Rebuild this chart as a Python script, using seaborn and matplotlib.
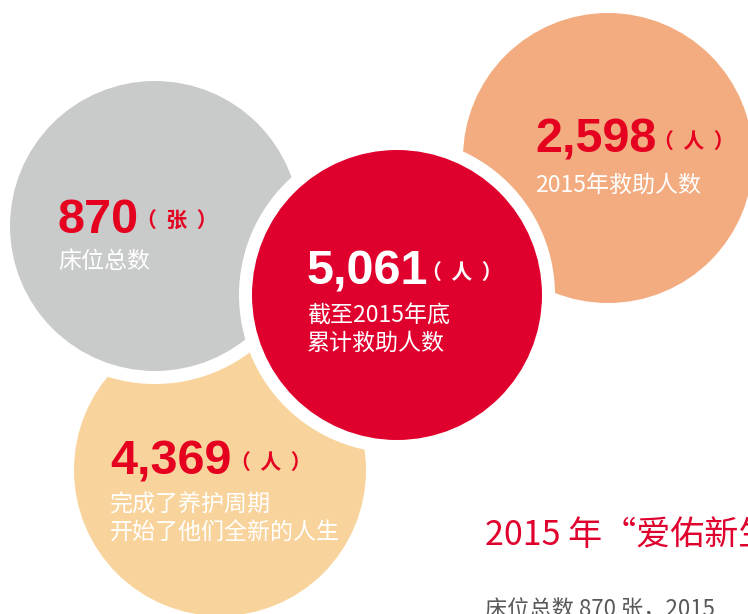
import matplotlib
matplotlib.use("Agg")
import matplotlib.pyplot as plt
import seaborn as sns
import pandas as pd

# figures shown in the four bubbles
bubble_keys = ["beds", "total", "year", "finished"]
values = ["870", "5,061", "2,598", "4,369"]
units = ["（  张  ）", "（  人  ）", "（  人  ）", "（  人  ）"]
captions = ["床位总数",
            "截至2015年底\n累计救助人数",
            "2015年救助人数",
            "完成了养护周期\n开始了他们全新的人生"]

title_text = "2015 年“爱佑新生"
body_text = "床位总数 870 张，2015"

# page layout, in pixels (origin top-left)
W, H = 748, 614
RING = 13
centre = {"beds": (155, 226), "total": (397, 295),
          "year": (608, 158), "finished": (220, 470)}
radius = {"beds": 145, "total": 145, "year": 145, "finished": 146}
fill = {"beds": "#C9CACA", "total": "#E0002D",
        "year": "#F3AC80", "finished": "#F8D39B"}

RED = "#E50020"
num_colour = {"beds": RED, "total": "white", "year": RED, "finished": RED}
# text anchor: (x, number baseline, first caption line centre)
text_pos = {"beds": (58, 233, 262), "total": (307, 284, 316),
            "year": (535, 153, 185), "finished": (110, 474, 505)}
unit_x = {"beds": 136, "total": 421, "year": 653, "finished": 230}

# discs in drawing order; white rings cut the discs below them
layers = ["finished", "year", "beds_ring", "beds", "total_ring", "total"]
rows = []
for name in layers:
    key = name.replace("_ring", "")
    r = radius[key] + (RING if name.endswith("_ring") else 0)
    rows.append({"layer": name, "x": centre[key][0], "y": centre[key][1],
                 "diam_pt": 2 * r * 0.72})
discs = pd.DataFrame(rows)

palette = {n: ("white" if n.endswith("_ring") else fill[n]) for n in layers}
sizes = {row.layer: row.diam_pt ** 2 for row in discs.itertuples()}

sns.set_theme(style="white")
plt.rcParams["font.family"] = ["Noto Sans CJK SC", "DejaVu Sans"]

fig = plt.figure(figsize=(W / 100, H / 100), dpi=100)
ax = fig.add_axes([0, 0, 1, 1])
sns.scatterplot(data=discs, x="x", y="y", hue="layer", palette=palette,
                size="layer", sizes=sizes, linewidth=0, legend=False, ax=ax)
ax.set_xlim(0, W)
ax.set_ylim(H, 0)
ax.axis("off")

for key, val, unit, cap in zip(bubble_keys, values, units, captions):
    x, base, cap_y = text_pos[key]
    col = num_colour[key]
    ax.text(x, base, val, fontsize=35, color=col, fontweight="bold",
            family=["Liberation Sans"], va="baseline", ha="left")
    ax.text(unit_x[key], base - 12, unit, fontsize=15, color=col,
            fontweight="bold", va="center", ha="left")
    for i, line in enumerate(cap.split("\n")):
        ax.text(x, cap_y + i * 27, line, fontsize=16.6, color="white",
                va="center", ha="left")

ax.text(485, 545, title_text, fontsize=24.5, color="#E0002D",
        va="baseline", ha="left")
ax.text(485, 617, body_text, fontsize=16, color="#595757",
        va="baseline", ha="left")

fig.savefig("out.png", dpi=100)
